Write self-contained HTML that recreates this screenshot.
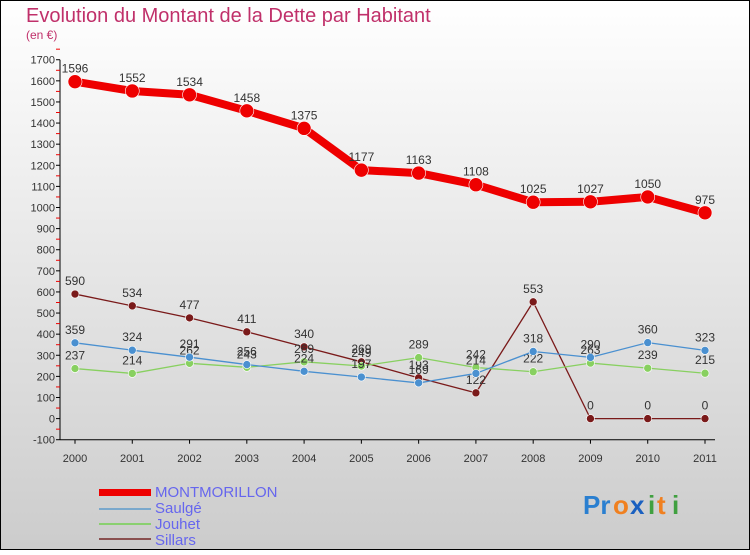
<!DOCTYPE html>
<html><head><meta charset="utf-8"><style>
body{margin:0;width:750px;height:550px;overflow:hidden;font-family:"Liberation Sans",sans-serif}
svg text{font-family:"Liberation Sans",sans-serif}
</style></head><body>
<svg id="chart" width="750" height="550" xmlns="http://www.w3.org/2000/svg">
<defs><linearGradient id="bg" x1="0" y1="0" x2="0" y2="1"><stop offset="0" stop-color="#ffffff"/><stop offset="1" stop-color="#cccccc"/></linearGradient></defs>
<rect x="0" y="0" width="750" height="550" fill="url(#bg)" stroke="#000" stroke-width="2"/>
<text x="26" y="22" font-size="20" fill="#c0306a">Evolution du Montant de la Dette par Habitant</text>
<text x="26" y="39" font-size="12" fill="#c0306a">(en €)</text>
<g id="axes"></g><g id="series"></g>
<g>
<rect x="99" y="489" width="52" height="7" fill="#e00"/>
<text x="155" y="497" font-size="15" fill="#6666ee">MONTMORILLON</text>
<line x1="99" y1="509" x2="151" y2="509" stroke="#7aa8cc" stroke-width="2"/>
<text x="155" y="513" font-size="15" fill="#6666ee">Saulgé</text>
<line x1="99" y1="524" x2="151" y2="524" stroke="#8ad070" stroke-width="2"/>
<text x="155" y="529" font-size="15" fill="#6666ee">Jouhet</text>
<line x1="99" y1="539" x2="151" y2="539" stroke="#8a5050" stroke-width="2"/>
<text x="155" y="545" font-size="15" fill="#6666ee">Sillars</text>
</g>
<g font-size="26" font-weight="bold">
<text x="583" y="514" fill="#2a7fd0">Pr</text><text x="613" y="514" fill="#f08020">o</text><text x="630" y="514" fill="#1a60c0">x</text><text x="648" y="514" fill="#40a040">i</text><text x="657" y="514" fill="#f08020">t</text><text x="672" y="514" fill="#40a040">i</text>
</g>
</svg>
<script>
const years=[2000,2001,2002,2003,2004,2005,2006,2007,2008,2009,2010,2011];
const montmorillon=[1596,1552,1534,1458,1375,1177,1163,1108,1025,1027,1050,975];
const saulge=[359,324,291,256,224,197,169,214,318,290,360,323];
const jouhet=[237,214,262,243,269,249,289,242,222,263,239,215];
const sillars=[590,534,477,411,340,269,193,122,553,0,0,0];
const yTicks=[-100,0,100,200,300,400,500,600,700,800,900,1000,1100,1200,1300,1400,1500,1600,1700];
const NS="http://www.w3.org/2000/svg";
const x=i=>75+i*(630/11);
const y=v=>418.6-v*0.2111;
function mk(tag,attrs,parent){const e=document.createElementNS(NS,tag);for(const k in attrs)e.setAttribute(k,attrs[k]);parent.appendChild(e);return e;}
const ax=document.getElementById('axes');
let l=mk('line',{x1:60,y1:y(1700),x2:60,y2:y(-100),stroke:'#000'},ax);


l=mk('line',{x1:60,y1:y(-100),x2:715,y2:y(-100),stroke:'#000'},ax);


yTicks.forEach(v=>{
 mk('line',{x1:56,y1:y(v),x2:60,y2:y(v),stroke:'#000'},ax);
 mk('line',{x1:56,y1:y(v+50),x2:60,y2:y(v+50),stroke:'#e00'},ax);
 const t=mk('text',{x:55,y:y(v)+4,'font-size':11,'text-anchor':'end',fill:'#333'},ax);
 t.textContent=v;
 
 
});
years.forEach((yr,i)=>{
 mk('line',{x1:x(i),y1:y(-100),x2:x(i),y2:y(-100)+4,stroke:'#000'},ax);
 const t=mk('text',{x:x(i),y:462,'font-size':11,'text-anchor':'middle',fill:'#333'},ax);
 t.textContent=yr;
 
 
});
const sg=document.getElementById('series');
function draw(vals,color,w,r,name){
 const g=mk('g',{},sg);
 
 
 mk('polyline',{points:vals.map((v,i)=>x(i)+','+y(v)).join(' '),fill:'none',stroke:color,'stroke-width':w,'stroke-linejoin':'round'},g);
 vals.forEach((v,i)=>{
  const c=mk('circle',{cx:x(i),cy:y(v),r:r,fill:color,stroke:'#fff','stroke-width':0.6},g);
  
  
  const t=mk('text',{x:x(i),y:y(v)-9,'font-size':12,'text-anchor':'middle',fill:'#333'},g);
  t.textContent=v;
  
  
 });
}
draw(sillars,'#7a1a1a',1.3,4,'sillars');
draw(jouhet,'#88d060',1.3,4,'jouhet');
draw(saulge,'#4a90d0',1.3,4,'saulge');
draw(montmorillon,'#ee0000',8,7,'montmorillon');
</script>
</body></html>
